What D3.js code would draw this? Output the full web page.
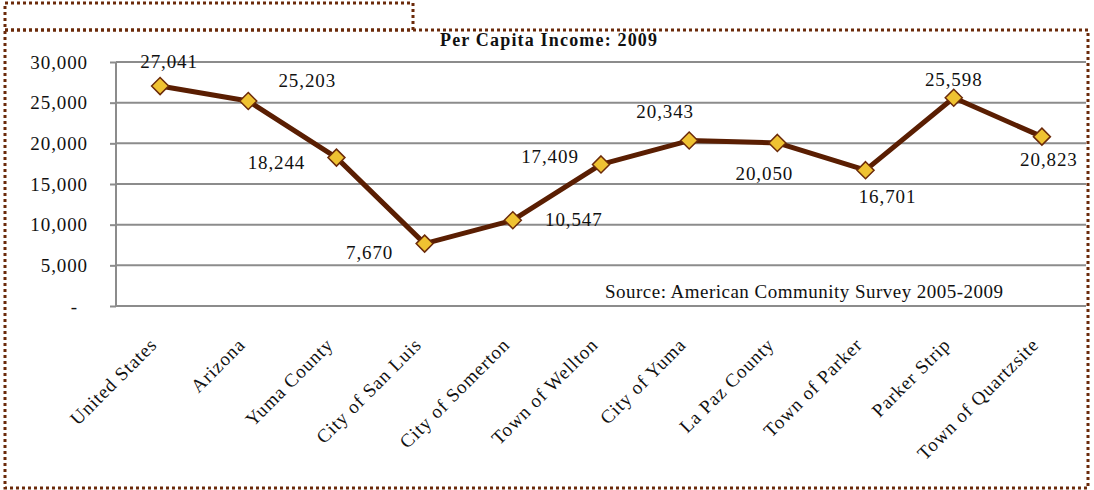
<!DOCTYPE html>
<meta charset="utf-8">
<script src="https://d3js.org/d3.v7.min.js"></script>
<style>
  body { margin: 0; background: #fff; }
  text { font-family: "Liberation Serif", "Times New Roman", serif; fill: #111; }
</style>
<div id="chart"></div>
<script>
// data
var places = ["United States", "Arizona", "Yuma County", "City of San Luis", "City of Somerton",
  "Town of Wellton", "City of Yuma", "La Paz County", "Town of Parker", "Parker Strip", "Town of Quartzsite"];
var income = [27041, 25203, 18244, 7670, 10547, 17409, 20343, 20050, 16701, 25598, 20823];
var yTicks = [0, 5000, 10000, 15000, 20000, 25000, 30000];

// where each value label sits relative to its point (manual, like in the original)
var labelNudge = [[9, -18], [59, -14], [-60, 11], [-55, 15], [61, 6], [-51, -1],
  [-24, -23], [-13, 37], [22, 33], [0, -12], [7, 29]];

var W = 1094, H = 490;
var plot = {left: 116, right: 1086, top: 62, bottom: 306};

var svg = d3.select("#chart").append("svg")
  .attr("width", W).attr("height", H);

// dotted frame
var brown = "#6b2a0a";
svg.append("rect").attr("x", 5).attr("y", 30).attr("width", 1083).attr("height", 458)
  .attr("fill", "none").attr("stroke", brown).attr("stroke-width", 3).attr("stroke-dasharray", "3,3");
svg.append("rect").attr("x", 5).attr("y", 3).attr("width", 408).attr("height", 27)
  .attr("fill", "none").attr("stroke", brown).attr("stroke-width", 3).attr("stroke-dasharray", "3,3");

var x = d3.scalePoint().domain(places).range([plot.left, plot.right]).padding(0.5);
var y = d3.scaleLinear().domain([0, 30000]).range([plot.bottom, plot.top]);

// gridlines + y axis
var yAxis = svg.append("g")
  .attr("transform", "translate(" + plot.left + ",0)")
  .call(d3.axisLeft(y).tickValues(yTicks).tickSize(6).tickPadding(22)
    .tickFormat(function(d) { return d === 0 ? "-" : d3.format(",")(d); }));
yAxis.select(".domain").remove();
yAxis.selectAll("line").attr("stroke", "#8c8c8c").attr("stroke-width", 2);
yAxis.selectAll("text").style("font-size", "19px").style("letter-spacing", "0.9px").attr("fill", "#111");
yAxis.selectAll(".tick").filter(function(d) { return d === 0; }).select("text").attr("dx", -10);

svg.append("g").selectAll("line").data(yTicks).enter().append("line")
  .attr("x1", plot.left).attr("x2", plot.right)
  .attr("y1", function(d) { return y(d); }).attr("y2", function(d) { return y(d); })
  .attr("stroke", "#8c8c8c").attr("stroke-width", 2);

svg.append("line")
  .attr("x1", plot.left).attr("x2", plot.left)
  .attr("y1", plot.top).attr("y2", plot.bottom)
  .attr("stroke", "#8c8c8c").attr("stroke-width", 2);

// x labels, rotated
svg.append("g").selectAll("text").data(places).enter().append("text")
  .attr("transform", function(d) { return "translate(" + (x(d) - 2) + ",346) rotate(-45)"; })
  .attr("text-anchor", "end")
  .style("font-size", "19px").style("letter-spacing", "0.9px")
  .text(function(d) { return d; });

// line
var line = d3.line()
  .x(function(d, i) { return x(places[i]); })
  .y(function(d) { return y(d); });
svg.append("path").datum(income)
  .attr("d", line)
  .attr("fill", "none").attr("stroke", "#5a1e02").attr("stroke-width", 5)
  .attr("stroke-linejoin", "round");

// diamond markers
svg.append("g").selectAll("path").data(income).enter().append("path")
  .attr("transform", function(d, i) { return "translate(" + x(places[i]) + "," + y(d) + ")"; })
  .attr("d", "M0,-8.5L8.5,0L0,8.5L-8.5,0Z")
  .attr("fill", "#efc232").attr("stroke", brown).attr("stroke-width", 1.5);

// value labels
svg.append("g").selectAll("text").data(income).enter().append("text")
  .attr("x", function(d, i) { return x(places[i]) + labelNudge[i][0]; })
  .attr("y", function(d, i) { return y(d) + labelNudge[i][1]; })
  .attr("text-anchor", "middle")
  .style("font-size", "19px").style("letter-spacing", "0.9px")
  .text(function(d) { return d3.format(",")(d); });

// title
svg.append("text")
  .attr("x", 440).attr("y", 46)
  .attr("textLength", 217).attr("lengthAdjust", "spacing")
  .style("font-size", "18px").style("font-weight", "bold")
  .text("Per Capita Income: 2009");

// source note
svg.append("text")
  .attr("x", 605).attr("y", 298)
  .attr("textLength", 398).attr("lengthAdjust", "spacing")
  .style("font-size", "19px").attr("fill", "#3a3a3a")
  .text("Source: American Community Survey 2005-2009");
</script>
